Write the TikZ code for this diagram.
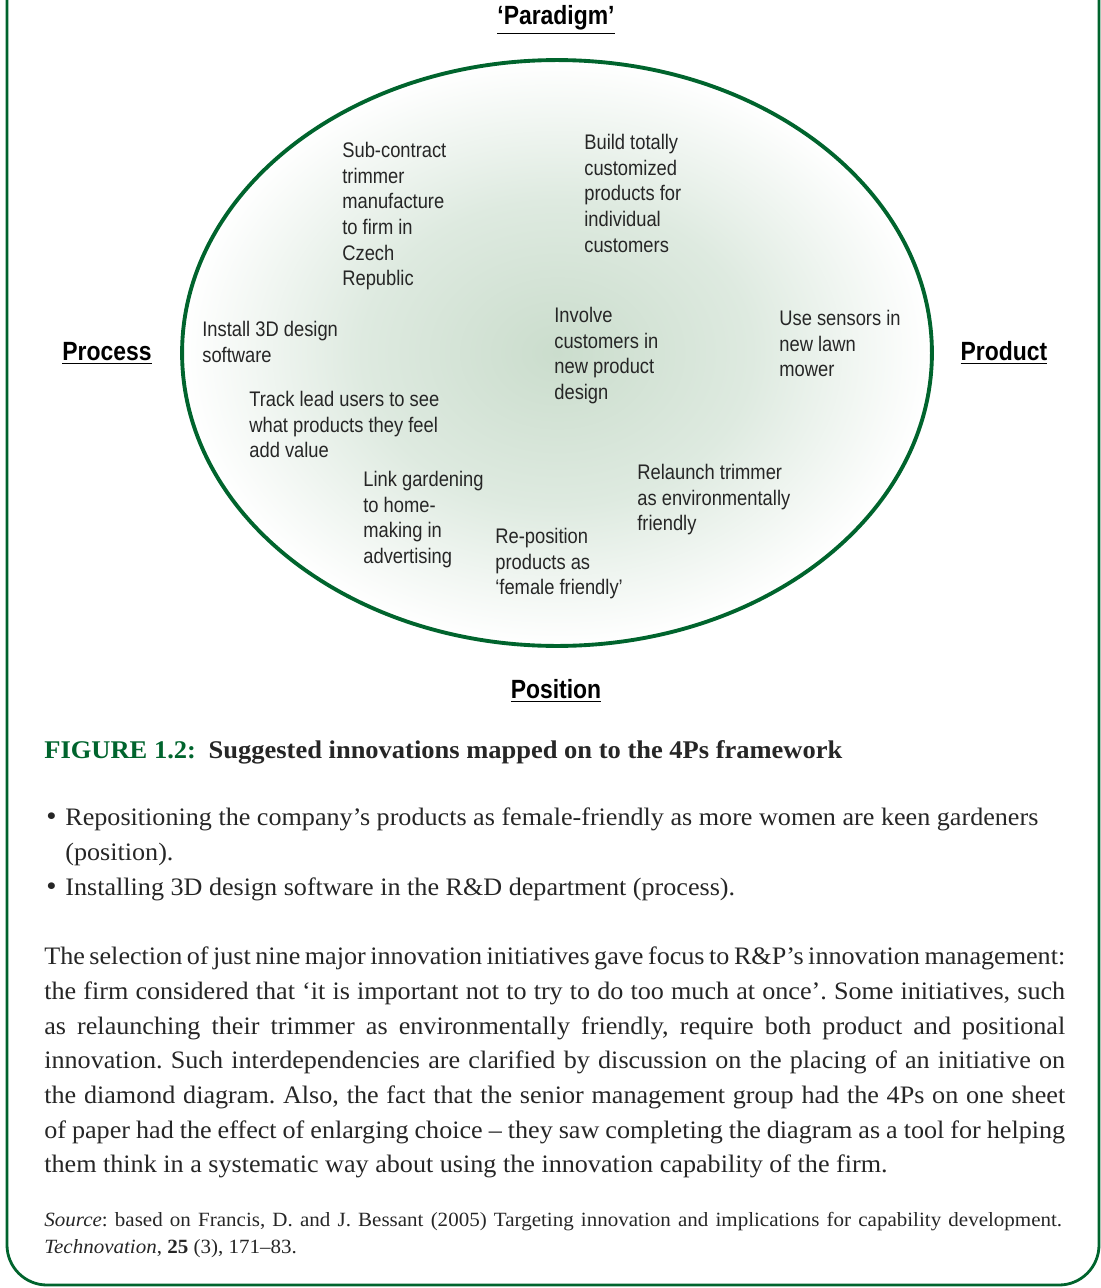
\documentclass[tikz,border=0pt]{standalone}
\usepackage{fontspec}
\setmainfont[FakeStretch=1.04]{Liberation Serif}
\newfontfamily\narrowsans[FakeStretch=0.87]{Liberation Sans}
\usetikzlibrary{positioning}
\frenchspacing

\definecolor{framegreen}{RGB}{0,100,45}
\definecolor{centregreen}{RGB}{203,221,205}
\definecolor{midgreen}{RGB}{222,234,224}
\definecolor{inktext}{RGB}{38,38,38}

\pgfdeclareradialshading{lawn}{\pgfpoint{0bp}{0bp}}{color(0bp)=(centregreen); color(13bp)=(midgreen); color(25bp)=(white); color(50bp)=(white)}

% one justified line of the running text
\newcommand{\justline}[2][20.42cm]{\makebox[#1][s]{#2}}

\begin{document}
\begin{tikzpicture}[x=0.02cm, y=-0.02cm,
                ring/.style={draw=framegreen, line width=2.2pt},
                border/.style={draw=framegreen, line width=1.6pt, rounded corners=0.8cm},
                idea/.style={anchor=north west, align=left, inner sep=0pt, text=inktext, font=\narrowsans\fontsize{12}{14.6}\selectfont},
                pname/.style={inner sep=0pt, text=black, font=\narrowsans\bfseries\fontsize{15}{18}\selectfont},
                bodyline/.style={anchor=base west, inner sep=0pt, text=inktext, font=\fontsize{14.3}{19}\selectfont},
                srcline/.style={anchor=base west, inner sep=0pt, text=inktext, font=\fontsize{11.5}{15}\selectfont}
            ]
            \useasboundingbox (0,0) rectangle (1101,1288);

            % Rahmen
            \draw[border] (7,0) -- (7,1285) -- (1099,1285) -- (1099,0);

            % Ellipse
            \coordinate (centre) at (557,353);
            \shade[shading=lawn] (centre) ellipse [x radius=7.5cm, y radius=5.86cm];
            \draw[ring] (centre) ellipse [x radius=7.5cm, y radius=5.86cm];

            % die vier Ps
            \node[pname] (paradigm) at (556,20) {\underline{‘Paradigm’}};
            \node[pname] (process) at (107,353) {\underline{Process}};
            \node[pname] (product) at (1004,353) {\underline{Product}};
            \node[pname] (position) at (556,691) {\underline{Position}};

            % Innovationen
            \node[idea] (subcontract) at (342,142) {Sub-contract\\trimmer\\manufacture\\to firm in\\Czech\\Republic};
            \node[idea] (customized) at (584,134) {Build totally\\customized\\products for\\individual\\customers};
            \node[idea] (install) at (202,321) {Install 3D design\\software};
            \node[idea] (involve) at (554,307) {Involve\\customers in\\new product\\design};
            \node[idea] (sensors) at (779,310) {Use sensors in\\new lawn\\mower};
            \node[idea] (leadusers) at (249,391) {Track lead users to see\\what products they feel\\add value};
            \node[idea] (gardening) at (363,471) {Link gardening\\to home-\\making in\\advertising};
            \node[idea] (relaunch) at (637,464) {Relaunch trimmer\\as environmentally\\friendly};
            \node[idea] (reposition) at (495,528) {Re-position\\products as\\‘female friendly’};

            % Bildunterschrift
            \node[bodyline, font=\bfseries\fontsize{14.5}{19}\selectfont] (caption) at (44,758) {\textcolor{framegreen}{FIGURE 1.2:}\enspace Suggested innovations mapped on to the 4Ps framework};

            % Aufzaehlung
            \node[bodyline, font=\fontsize{16}{19}\selectfont] (dotA) at (46,825) {\textbullet};
            \node[bodyline] (itemA) at (65,825) {Repositioning the company’s products as female-friendly as more women are keen gardeners};
            \node[bodyline] (itemAb) at (65,860) {(position).};
            \node[bodyline, font=\fontsize{16}{19}\selectfont] (dotB) at (46,895) {\textbullet};
            \node[bodyline] (itemB) at (65,895) {Installing 3D design software in the R\&D department (process).};

            % Absatz
            \node[bodyline] (parA) at (44,964) {\justline{The selection of just nine major innovation initiatives gave focus to R\&P’s innovation management:}};
            \node[bodyline] (parB) at (44,999) {\justline{the firm considered that ‘it is important not to try to do too much at once’. Some initiatives, such}};
            \node[bodyline] (parC) at (44,1034) {\justline{as relaunching their trimmer as environmentally friendly, require both product and positional}};
            \node[bodyline] (parD) at (44,1068) {\justline{innovation. Such interdependencies are clarified by discussion on the placing of an initiative on}};
            \node[bodyline] (parE) at (44,1103) {\justline{the diamond diagram. Also, the fact that the senior management group had the 4Ps on one sheet}};
            \node[bodyline] (parF) at (44,1138) {\justline{of paper had the effect of enlarging choice – they saw completing the diagram as a tool for helping}};
            \node[bodyline] (parG) at (44,1172) {them think in a systematic way about using the innovation capability of the firm.};

            % Quelle
            \node[srcline] (srcA) at (44,1226) {\justline[20.36cm]{\textit{Source}: based on Francis, D. and J. Bessant (2005) Targeting innovation and implications for capability development.}};
            \node[srcline] (srcB) at (44,1253) {\textit{Technovation}, \textbf{25} (3), 171–83.};

        \end{tikzpicture}
\end{document}
